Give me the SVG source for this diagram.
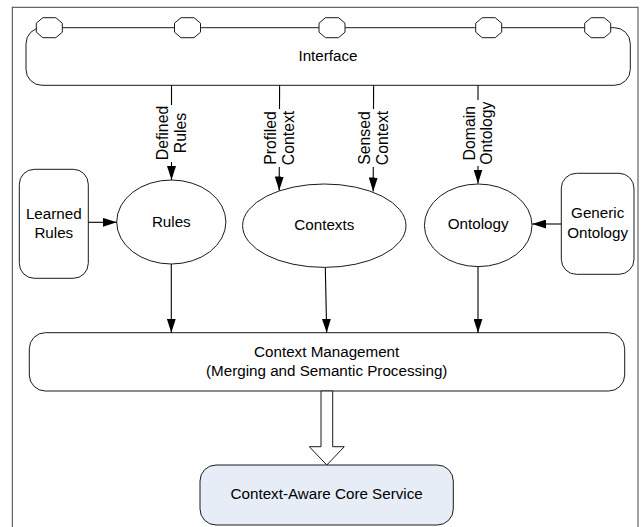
<svg xmlns="http://www.w3.org/2000/svg" width="642" height="527" viewBox="0 0 642 527">
<style>
.sh{fill:#fff;stroke:#1a1a1a;stroke-width:1}
.t{font-family:"Liberation Sans",Arial,sans-serif;font-size:15.2px;fill:#000;text-anchor:middle}
.lt{font-family:"Liberation Sans",Arial,sans-serif;font-size:15.8px;fill:#000;text-anchor:middle}
.c{fill:none;stroke:#000;stroke-width:1.1}
.bg{fill:#fff;stroke:none}
</style>
<defs>
<marker id="ah" markerUnits="userSpaceOnUse" markerWidth="14" markerHeight="9" refX="14" refY="4.5" orient="auto" viewBox="0 0 14 9">
<path d="M0,0 L14,4.5 L0,9 z" fill="#000"/>
</marker>
</defs>
<rect x="0" y="0" width="642" height="527" fill="#fff"/>
<rect id="frame" x="12.3" y="7.3" width="625.7" height="530" fill="none" stroke="#444" stroke-width="1"/>

<g id="interface">
<rect class="sh" x="26" y="27.7" width="604.3" height="57.6" rx="16" ry="16"/>
<g class="sh">
<polygon points="42.8,17.7 55.8,17.7 62.3,23.2 62.3,32.2 55.8,37.7 42.8,37.7 36.3,32.2 36.3,23.2"/>
<polygon points="181,17.7 194,17.7 200.5,23.2 200.5,32.2 194,37.7 181,37.7 174.5,32.2 174.5,23.2"/>
<polygon points="325.5,17.7 338.5,17.7 345,23.2 345,32.2 338.5,37.7 325.5,37.7 319,32.2 319,23.2"/>
<polygon points="482.2,17.7 495.2,17.7 501.7,23.2 501.7,32.2 495.2,37.7 482.2,37.7 475.7,32.2 475.7,23.2"/>
<polygon points="591.2,17.7 604.2,17.7 610.7,23.2 610.7,32.2 604.2,37.7 591.2,37.7 584.7,32.2 584.7,23.2"/>
</g>
<text class="t" x="328" y="61">Interface</text>
</g>

<g id="learned-rules">
<rect class="sh" x="19.3" y="169.3" width="69" height="109" rx="15" ry="15"/>
<text class="t" x="53.8" y="219">Learned</text>
<text class="t" x="53.8" y="238">Rules</text>
</g>

<g id="rules">
<ellipse class="sh" cx="171.3" cy="222" rx="54.6" ry="42"/>
<text class="t" x="171.3" y="227">Rules</text>
</g>

<g id="contexts">
<ellipse class="sh" cx="324.3" cy="225.7" rx="81.7" ry="41.7"/>
<text class="t" x="324.3" y="229.5">Contexts</text>
</g>

<g id="ontology">
<ellipse class="sh" cx="478.2" cy="225.3" rx="53.8" ry="41.3"/>
<text class="t" x="478.2" y="229">Ontology</text>
</g>

<g id="generic-ontology">
<rect class="sh" x="561.3" y="173.3" width="72.7" height="101" rx="15" ry="15"/>
<text class="t" x="597.7" y="218.3">Generic</text>
<text class="t" x="597.7" y="237.5">Ontology</text>
</g>

<g id="context-management">
<rect class="sh" x="29.3" y="332.7" width="595.4" height="58.3" rx="16" ry="16"/>
<text class="t" x="326.7" y="356.7">Context Management</text>
<text class="t" x="326.7" y="376">(Merging and Semantic Processing)</text>
</g>

<g id="core-service">
<rect x="200" y="465" width="253.3" height="60" rx="16" ry="16" fill="#e7edf7" stroke="#1a1a1a" stroke-width="1"/>
<text class="t" x="326.7" y="499">Context-Aware Core Service</text>
</g>

<g id="connectors">
<line class="c" x1="171.5" y1="85.3" x2="171.5" y2="180" marker-end="url(#ah)"/>
<line class="c" x1="279.6" y1="85.3" x2="279.2" y2="190.5" marker-end="url(#ah)"/>
<line class="c" x1="373.6" y1="85.3" x2="373.2" y2="191.5" marker-end="url(#ah)"/>
<line class="c" x1="478" y1="85.3" x2="478" y2="183.5" marker-end="url(#ah)"/>
<line class="c" x1="88.3" y1="222.3" x2="116.7" y2="222.3" marker-end="url(#ah)"/>
<line class="c" x1="561.3" y1="224" x2="532.2" y2="224" marker-end="url(#ah)"/>
<line class="c" x1="171.3" y1="264" x2="171.3" y2="332.7" marker-end="url(#ah)"/>
<line class="c" x1="325.3" y1="267.4" x2="326.7" y2="332.7" marker-end="url(#ah)"/>
<line class="c" x1="478" y1="266.6" x2="478" y2="332.7" marker-end="url(#ah)"/>
<polygon class="sh" points="321,391 332.7,391 332.7,446.7 344.3,446.7 326.8,465 309.3,446.7 321,446.7"/>

<g id="label-defined-rules">
<rect class="bg" x="155" y="105" width="33" height="57"/>
<g transform="translate(171.5,133) rotate(-90)">
<text class="lt" x="0" y="-3.5">Defined</text>
<text class="lt" x="0" y="14.5">Rules</text>
</g>
</g>
<g id="label-profiled-context">
<rect class="bg" x="262" y="109" width="34" height="58"/>
<g transform="translate(279.5,138) rotate(-90)">
<text class="lt" x="0" y="-3.7">Profiled</text>
<text class="lt" x="0" y="14.4">Context</text>
</g>
</g>
<g id="label-sensed-context">
<rect class="bg" x="356" y="109" width="34" height="58"/>
<g transform="translate(373.5,138) rotate(-90)">
<text class="lt" x="0" y="-3.6">Sensed</text>
<text class="lt" x="0" y="14.6">Context</text>
</g>
</g>
<g id="label-domain-ontology">
<rect class="bg" x="460" y="100" width="37" height="66"/>
<g transform="translate(478,133.2) rotate(-90)">
<text class="lt" x="0" y="-2.8">Domain</text>
<text class="lt" x="0" y="14.2">Ontology</text>
</g>
</g>
</g>
</svg>
